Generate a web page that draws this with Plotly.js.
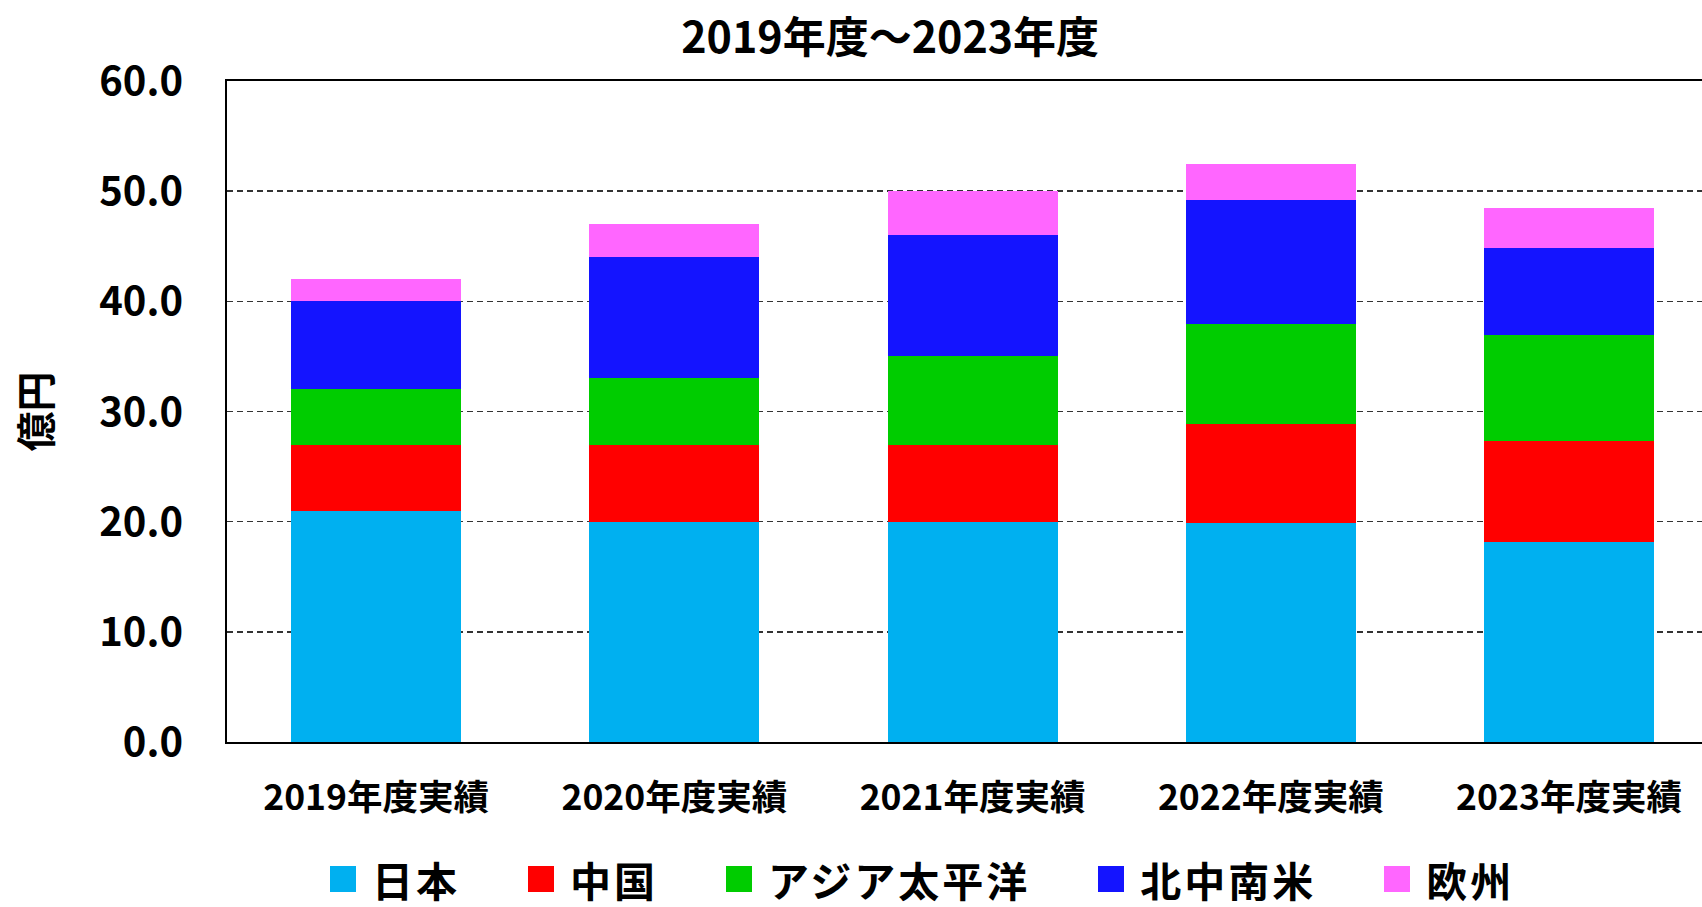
<!DOCTYPE html>
<html>
<head>
<meta charset="utf-8">
<script src="https://cdn.plot.ly/plotly-3.0.1.min.js"></script>
<style>
  html, body { margin: 0; padding: 0; background: #fff; overflow: hidden; }
  #wrap { position: relative; width: 1702px; height: 907px; }
  #chart { width: 1702px; height: 907px; }
  #legend { position: absolute; left: 330px; top: 857px; height: 44px; display: flex; align-items: center;
            font-family: "Noto Sans CJK JP", "Noto Sans", sans-serif; font-weight: bold; font-size: 41px; color: #000; white-space: nowrap; }
  .item { display: flex; align-items: center; margin-right: 68px; height: 44px; }
  .item span { line-height: 44px; display: inline-block; height: 44px; letter-spacing: 3px; }
  .sw { width: 26px; height: 26px; margin-right: 16px; }
</style>
</head>
<body>
<div id="wrap">
  <div id="chart"></div>
  <div id="legend"></div>
</div>
<script>
const categories = ["2019年度実績", "2020年度実績", "2021年度実績", "2022年度実績", "2023年度実績"];
const seriesNames = ["日本", "中国", "アジア太平洋", "北中南米", "欧州"];
const japan = [21.0, 20.0, 20.0, 19.9, 18.2];
const china = [6.0, 7.0, 7.0, 9.0, 9.1];
const asiaPacific = [5.0, 6.0, 8.0, 9.0, 9.6];
const americas = [8.0, 11.0, 11.0, 11.3, 7.9];
const europe = [2.0, 3.0, 4.0, 3.3, 3.7];
const colors = ["#00B0F0", "#FF0000", "#00CC00", "#1414FF", "#FF66FF"];
const yTicks = [0, 10, 20, 30, 40, 50, 60];

const seriesValues = [japan, china, asiaPacific, americas, europe];
const FONT = '"Noto Sans CJK JP", "Noto Sans", sans-serif';

const traces = seriesNames.map((name, i) => ({
  type: "bar",
  name: name,
  x: categories,
  y: seriesValues[i],
  marker: { color: colors[i], line: { width: 0 } },
  hoverinfo: "name+y"
}));

const layout = {
  width: 1702,
  height: 907,
  barmode: "stack",
  bargap: 0.43,
  showlegend: false,
  paper_bgcolor: "#fff",
  plot_bgcolor: "#fff",
  margin: { l: 227, r: 0, t: 81, b: 165, pad: 0 },
  font: { family: FONT, color: "#000", weight: "bold" },
  title: {
    text: "2019年度～2023年度",
    font: { family: FONT, size: 43, color: "#000", weight: "bold" },
    xref: "container", x: 0.523, xanchor: "center",
    yref: "container", y: 0.958, yanchor: "middle"
  },
  xaxis: {
    type: "category",
    range: [-0.5, 4.446],
    showline: true, linecolor: "#000", linewidth: 2, mirror: true,
    showgrid: false, zeroline: false, ticks: "",
    tickfont: { family: FONT, size: 35.5, color: "#000", weight: "bold" },
    ticklabelstandoff: 23
  },
  yaxis: {
    range: [0, 60],
    tickvals: yTicks,
    tickformat: ".1f",
    showline: true, linecolor: "#000", linewidth: 2,
    showgrid: true, gridcolor: "#333", gridwidth: 1.5, griddash: "6px,4px",
    zeroline: false, ticks: "",
    tickfont: { family: FONT, size: 40, color: "#000", weight: "bold" },
    ticklabelstandoff: 34,
    title: { text: "億円", standoff: 35, font: { family: FONT, size: 40, color: "#000", weight: "bold" } }
  }
};

Plotly.newPlot("chart", traces, layout, { staticPlot: true, displayModeBar: false });

const legend = document.getElementById("legend");
seriesNames.forEach((name, i) => {
  const item = document.createElement("div");
  item.className = "item";
  const sw = document.createElement("div");
  sw.className = "sw";
  sw.style.background = colors[i];
  const txt = document.createElement("span");
  txt.textContent = name;
  item.appendChild(sw);
  item.appendChild(txt);
  legend.appendChild(item);
});
</script>
</body>
</html>
